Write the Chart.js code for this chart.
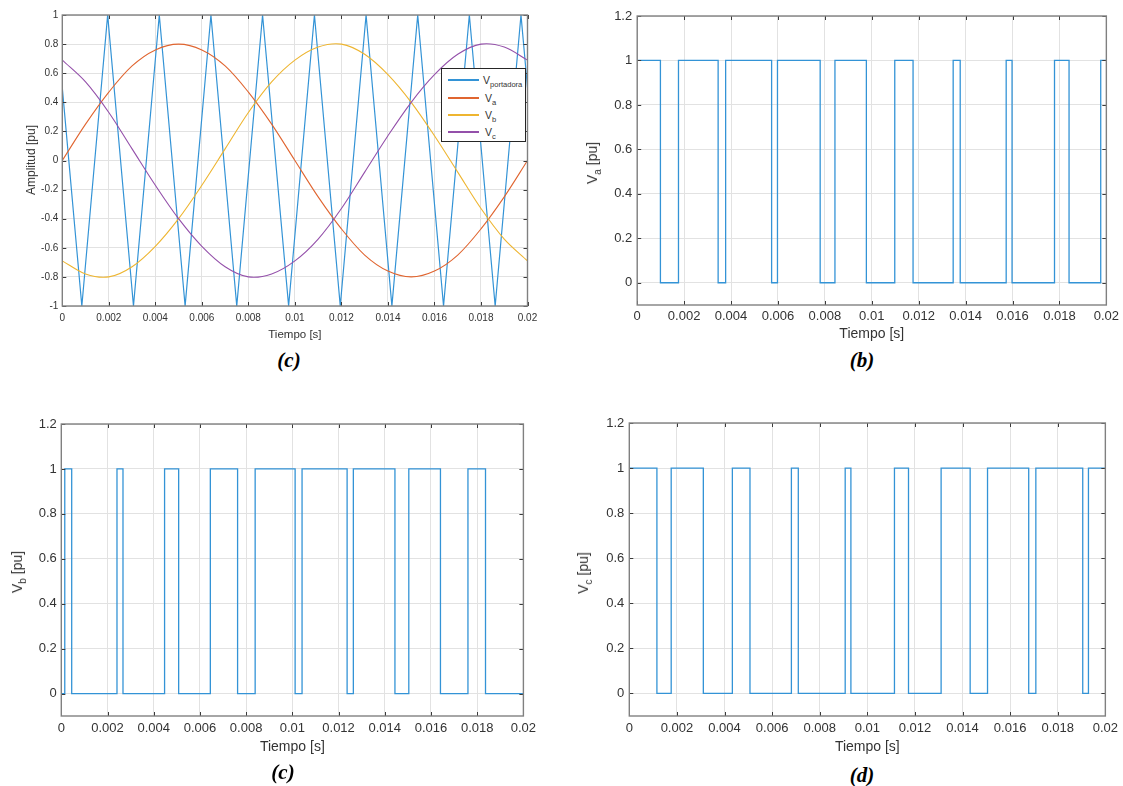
<!DOCTYPE html>
<html lang="es">
<head>
<meta charset="utf-8">
<title>Modulación PWM senoidal</title>
<script src="https://cdn.jsdelivr.net/npm/chart.js@4.4.1/dist/chart.umd.min.js"></script>
<style>
  html, body { margin: 0; padding: 0; background: #fff; }
  body { width: 1123px; height: 786px; position: relative; overflow: hidden; font-family: "Liberation Sans", Arial, sans-serif; }
  canvas { position: absolute; }
  .ytitle { position: absolute; transform: translate(-50%, -50%) rotate(-90deg); white-space: nowrap; color: #333; line-height: 1; }
  .ytitle sub, #leyenda sub { font-size: 0.72em; vertical-align: -0.4em; line-height: 0; }
  .caption { position: absolute; transform: translate(-50%, -50%); font-family: "Liberation Serif", "Times New Roman", serif; font-weight: bold; font-style: italic; font-size: 21px; color: #000; line-height: 1; }
  #leyenda { position: absolute; left: 441px; top: 68px; width: 85px; height: 74px; border: 1px solid #262626; background: #fff; box-sizing: border-box; }
  #leyenda .fila { position: absolute; left: 0; height: 14px; display: flex; align-items: center; font-size: 10.5px; color: #333; }
  #leyenda .muestra { display: inline-block; width: 31px; height: 2px; margin: 0 4px 0 6px; }
</style>
</head>
<body>

<canvas id="chartRef"  width="560" height="345" style="left:0;top:0"></canvas>
<canvas id="chartVa"   width="563" height="345" style="left:560px;top:0"></canvas>
<canvas id="chartVb"   width="560" height="360" style="left:0;top:400px"></canvas>
<canvas id="chartVc"   width="563" height="360" style="left:560px;top:400px"></canvas>

<div class="ytitle" style="left:31px;top:160px;font-size:12px">Amplitud [pu]</div>
<div class="ytitle" style="left:592px;top:163px;font-size:14px">V<sub>a</sub> [pu]</div>
<div class="ytitle" style="left:17px;top:572px;font-size:14px">V<sub>b</sub> [pu]</div>
<div class="ytitle" style="left:583px;top:573px;font-size:14px">V<sub>c</sub> [pu]</div>

<div class="caption" style="left:289px;top:360px">(c)</div>
<div class="caption" style="left:862px;top:360px">(b)</div>
<div class="caption" style="left:283px;top:772px">(c)</div>
<div class="caption" style="left:862px;top:775px">(d)</div>

<div id="leyenda"></div>

<script>
// ==========================================
// 1. DATOS
// ==========================================
const xTicks = [0, 0.002, 0.004, 0.006, 0.008, 0.01, 0.012, 0.014, 0.016, 0.018, 0.02];
const xTickLabels = ['0', '0.002', '0.004', '0.006', '0.008', '0.01', '0.012', '0.014', '0.016', '0.018', '0.02'];
const ampTicks = [-1, -0.8, -0.6, -0.4, -0.2, 0, 0.2, 0.4, 0.6, 0.8, 1];
const ampTickLabels = ['-1', '-0.8', '-0.6', '-0.4', '-0.2', '0', '0.2', '0.4', '0.6', '0.8', '1'];
const puTicks = [0, 0.2, 0.4, 0.6, 0.8, 1, 1.2];
const puTickLabels = ['0', '0.2', '0.4', '0.6', '0.8', '1', '1.2'];

// portadora triangular: vertices
const carrierTime  = [0, 0.00084, 0.00195, 0.00306, 0.00417, 0.00528, 0.00639, 0.0075, 0.00861, 0.00973, 0.01084,
                      0.01195, 0.01306, 0.01417, 0.01528, 0.01639, 0.0175, 0.01861, 0.01972, 0.02];
const carrierValue = [0.5, -1, 1, -1, 1, -1, 1, -1, 1, -1, 1, -1, 1, -1, 1, -1, 1, -1, 1, 0.5];

// referencias senoidales
const refTime = [0, 0.001, 0.002, 0.003, 0.004, 0.005, 0.006, 0.007, 0.008, 0.009, 0.01,
                 0.011, 0.012, 0.013, 0.014, 0.015, 0.016, 0.017, 0.018, 0.019, 0.02];
const refA = [0, 0.25, 0.47, 0.65, 0.76, 0.80, 0.76, 0.65, 0.47, 0.25, 0, -0.25, -0.47, -0.65, -0.76, -0.80, -0.76, -0.65, -0.47, -0.25, 0];
const refB = [-0.69, -0.78, -0.80, -0.73, -0.59, -0.40, -0.17, 0.08, 0.33, 0.54, 0.69, 0.78, 0.80, 0.73, 0.59, 0.40, 0.17, -0.08, -0.33, -0.54, -0.69];
const refC = [0.69, 0.54, 0.33, 0.08, -0.17, -0.40, -0.59, -0.73, -0.80, -0.78, -0.69, -0.54, -0.33, -0.08, 0.17, 0.40, 0.59, 0.73, 0.80, 0.78, 0.69];

// senales conmutadas: instante de cambio y nivel a partir de ese instante
const vaTime  = [0, 0.00099, 0.00176, 0.00345, 0.00377, 0.00573, 0.00598, 0.0078, 0.00843, 0.00977, 0.01098,
                 0.01176, 0.01347, 0.01377, 0.01573, 0.01598, 0.01779, 0.01841, 0.01976, 0.02];
const vaLevel = [1, 0, 1, 0, 1, 0, 1, 0, 1, 0, 1, 0, 1, 0, 1, 0, 1, 0, 1, 1];

const vbTime  = [0, 0.00015, 0.00045, 0.00241, 0.00267, 0.00447, 0.00508, 0.00645, 0.00763, 0.00839, 0.01012,
                 0.01042, 0.01237, 0.01264, 0.01444, 0.01504, 0.01641, 0.0176, 0.01836, 0.02];
const vbLevel = [0, 1, 0, 1, 0, 1, 0, 1, 0, 1, 0, 1, 0, 1, 0, 1, 0, 1, 0, 0];

const vcTime  = [0, 0.00116, 0.00176, 0.00311, 0.00433, 0.00507, 0.00681, 0.0071, 0.00907, 0.00931, 0.01114,
                 0.01173, 0.0131, 0.01432, 0.01505, 0.01678, 0.01708, 0.01905, 0.01929, 0.02];
const vcLevel = [1, 0, 1, 0, 1, 0, 1, 0, 1, 0, 1, 0, 1, 0, 1, 0, 1, 0, 1, 1];

// ==========================================
// 2. ESTILO
// ==========================================
const FONT = '"Liberation Sans", Arial, sans-serif';
const BLUE = '#3393d6', ORANGE = '#e06530', YELLOW = '#eeb530', PURPLE = '#9450aa';
const GRID = '#e2e2e2', TXT = '#333';

const pts = (xs, ys) => xs.map((x, i) => ({ x, y: ys[i] }));

// marco y marcas hacia dentro (estilo MATLAB)
const marcoPlugin = {
    id: 'marco',
    afterDraw(chart) {
        const { ctx, chartArea: a, scales: { x, y } } = chart;
        ctx.save();
        ctx.strokeStyle = '#3a3a3a';
        ctx.lineWidth = 1;
        ctx.beginPath();
        x.ticks.forEach(t => {
            const px = Math.round(x.getPixelForValue(t.value)) + 0.5;
            ctx.moveTo(px, a.bottom); ctx.lineTo(px, a.bottom - 4);
            ctx.moveTo(px, a.top);    ctx.lineTo(px, a.top + 4);
        });
        y.ticks.forEach(t => {
            const py = Math.round(y.getPixelForValue(t.value)) + 0.5;
            ctx.moveTo(a.left, py);  ctx.lineTo(a.left + 4, py);
            ctx.moveTo(a.right, py); ctx.lineTo(a.right - 4, py);
        });
        ctx.stroke();
        ctx.strokeStyle = '#808080';
        ctx.lineWidth = 1.4;
        ctx.strokeRect(a.left, a.top, a.right - a.left, a.bottom - a.top);
        ctx.restore();
    }
};

function axisX(o) {
    return {
        type: 'linear', min: 0, max: 0.02,
        afterBuildTicks: s => { s.ticks = xTicks.map(v => ({ value: v })); },
        afterFit: s => { s.height = o.h; },
        grid: { color: GRID, drawTicks: false },
        border: { display: false },
        ticks: { padding: o.pad, color: TXT, autoSkip: false, maxRotation: 0,
                 font: { family: FONT, size: o.size }, callback: (v, i) => xTickLabels[i] },
        title: { display: true, text: 'Tiempo [s]', color: TXT,
                 font: { family: FONT, size: o.tsize }, padding: { top: 0, bottom: o.tpb } }
    };
}

function axisY(o) {
    return {
        type: 'linear', min: o.min, max: o.max,
        afterBuildTicks: s => { s.ticks = o.ticks.map(v => ({ value: v })); },
        afterFit: s => { s.width = o.w; },
        grid: { color: GRID, drawTicks: false },
        border: { display: false },
        ticks: { padding: o.pad, color: TXT, autoSkip: false,
                 font: { family: FONT, size: o.size }, callback: (v, i) => o.labels[i] }
    };
}

function makeChart(id, datasets, pad, xOpt, yOpt) {
    return new Chart(document.getElementById(id), {
        type: 'line',
        data: { datasets },
        options: {
            responsive: false, animation: false, devicePixelRatio: 1,
            layout: { padding: pad },
            plugins: { legend: { display: false }, tooltip: { enabled: false } },
            elements: { point: { radius: 0 } },
            scales: { x: axisX(xOpt), y: axisY(yOpt) }
        },
        plugins: [marcoPlugin]
    });
}

const pwmLine = (xs, ys) => ({ data: pts(xs, ys), borderColor: BLUE, borderWidth: 1.3, stepped: true, fill: false });

// ==========================================
// 3. GRAFICAS
// ==========================================
const refSets = [
    { label: 'portadora', data: pts(carrierTime, carrierValue), borderColor: BLUE, borderWidth: 1.2, tension: 0, order: 3 },
    { label: 'a', data: pts(refTime, refA), borderColor: ORANGE, borderWidth: 1.1, tension: 0.33, order: 2 },
    { label: 'b', data: pts(refTime, refB), borderColor: YELLOW, borderWidth: 1.1, tension: 0.33, order: 1 },
    { label: 'c', data: pts(refTime, refC), borderColor: PURPLE, borderWidth: 1.1, tension: 0.33, order: 0 }
];

makeChart('chartRef', refSets, { top: 15, right: 32.5, left: 0, bottom: 0 },
    { h: 39, pad: 6, size: 10, tsize: 11.5, tpb: 3 },
    { min: -1, max: 1, ticks: ampTicks, labels: ampTickLabels, w: 62.3, pad: 4, size: 10 });

makeChart('chartVa', [pwmLine(vaTime, vaLevel)], { top: 16, right: 15.4, left: 0, bottom: 0 },
    { h: 40, pad: 4, size: 13, tsize: 14, tpb: 2.5 },
    { min: -0.1, max: 1.2, ticks: puTicks, labels: puTickLabels, w: 77.2, pad: 5, size: 13 });

makeChart('chartVb', [pwmLine(vbTime, vbLevel)], { top: 24, right: 36.6, left: 0, bottom: 0 },
    { h: 44, pad: 5, size: 13, tsize: 14, tpb: 4.5 },
    { min: -0.1, max: 1.2, ticks: puTicks, labels: puTickLabels, w: 61.3, pad: 4.5, size: 13 });

makeChart('chartVc', [pwmLine(vcTime, vcLevel)], { top: 23, right: 16.1, left: 0, bottom: 0 },
    { h: 44, pad: 5, size: 13, tsize: 14, tpb: 4.5 },
    { min: -0.1, max: 1.2, ticks: puTicks, labels: puTickLabels, w: 69.3, pad: 5, size: 13 });

// leyenda con subindices
const leyenda = document.getElementById('leyenda');
const filasY = [4, 21.5, 38.5, 56];
refSets.forEach((ds, i) => {
    const fila = document.createElement('div');
    fila.className = 'fila';
    fila.style.top = filasY[i] + 'px';
    const extra = i === 0 ? 0 : 2;
    fila.innerHTML = `<span class="muestra" style="background:${ds.borderColor};margin-right:${4 + extra}px"></span><span>V<sub>${ds.label}</sub></span>`;
    leyenda.appendChild(fila);
});
</script>
</body>
</html>
